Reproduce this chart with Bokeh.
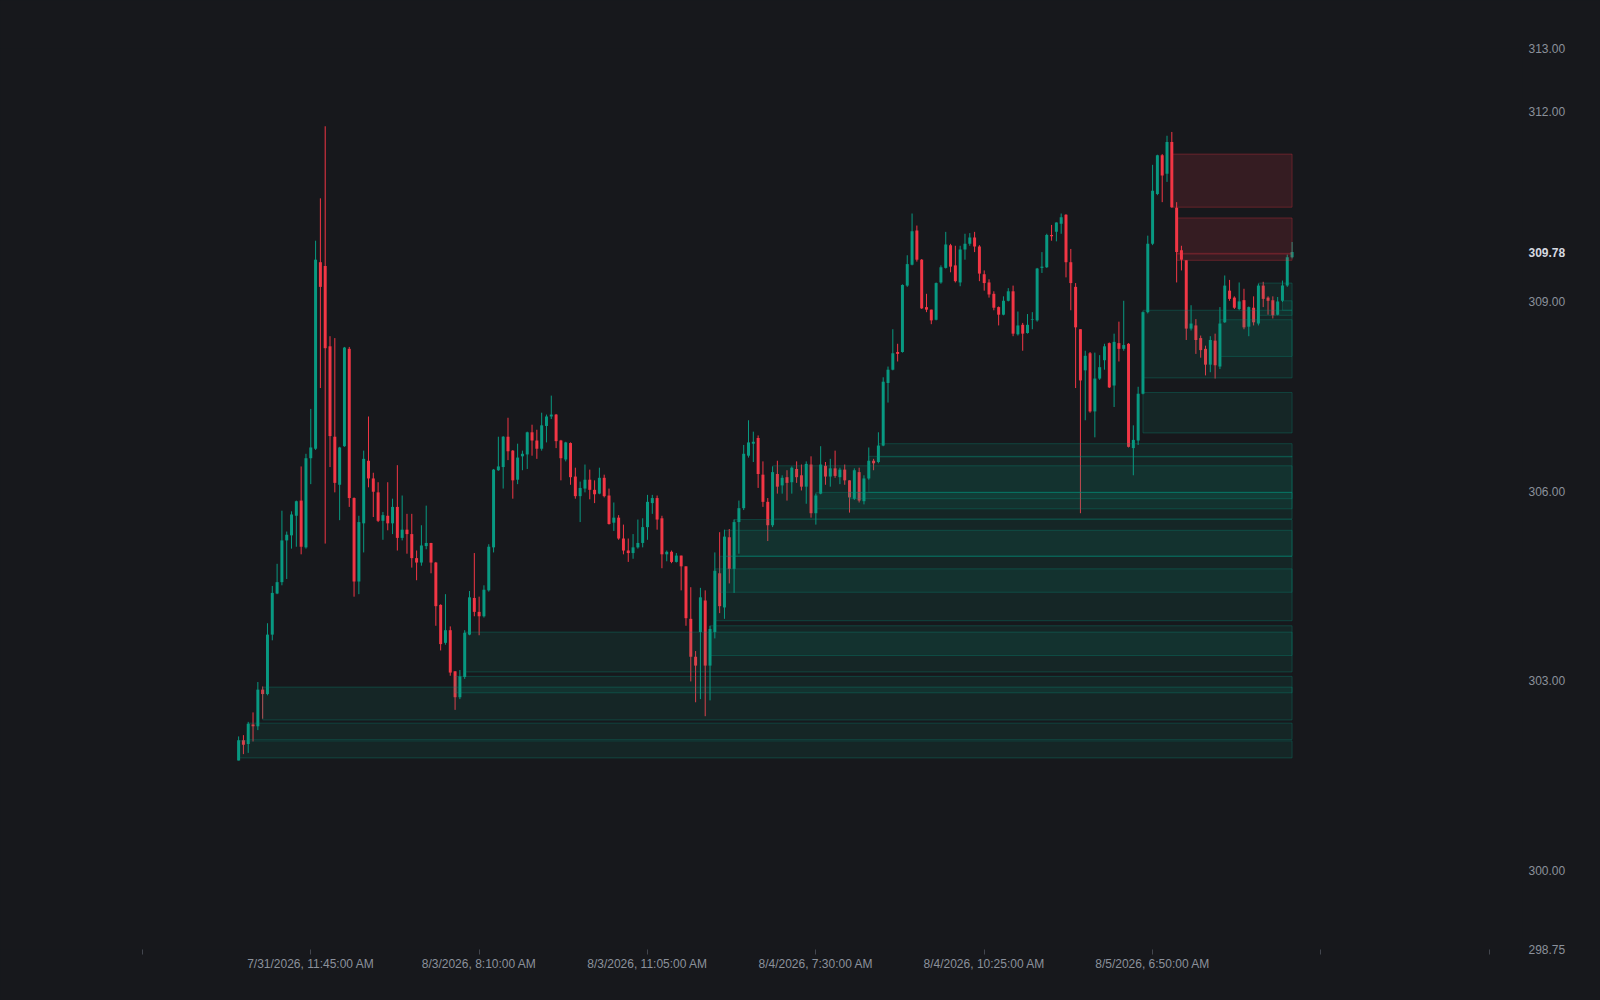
from bokeh.plotting import figure
from bokeh.models import Range1d, FixedTicker, PrintfTickFormatter, LinearAxis
from bokeh.embed import file_html
from bokeh.resources import INLINE

# ---------------- data ----------------
opens = [301.74, 302.06, 302.00, 302.31, 302.28, 302.86, 302.79, 303.73, 304.38, 304.56,
         305.22, 305.30, 305.61, 305.85, 305.11, 306.52, 306.67, 309.62, 309.56, 308.29,
         306.86, 306.10, 306.71, 308.25, 305.89, 304.57, 305.49, 306.48, 306.20, 305.98,
         305.53, 305.61, 305.49, 305.75, 305.26, 305.39, 305.32, 304.94, 304.87, 305.13,
         305.18, 304.87, 304.20, 303.60, 303.80, 303.15, 302.74, 303.06, 303.73, 304.31,
         304.09, 304.02, 304.43, 305.11, 306.33, 306.38, 306.86, 306.64, 306.18, 306.55,
         306.58, 306.93, 306.80, 306.67, 307.03, 307.18, 307.21, 306.80, 306.50, 306.76,
         306.23, 305.92, 306.04, 306.18, 306.02, 305.96, 306.21, 305.93, 305.50, 305.58,
         305.25, 305.06, 305.02, 305.11, 305.18, 305.43, 305.81, 305.89, 305.57, 305.00,
         305.04, 304.88, 304.98, 304.81, 303.98, 303.38, 303.77, 304.27, 303.24, 303.77,
         304.70, 304.16, 305.27, 304.77, 305.51, 305.73, 306.56, 306.75, 306.84, 306.26,
         305.83, 305.46, 306.27, 306.09, 306.22, 306.14, 306.35, 306.25, 306.07, 306.42,
         305.65, 305.96, 306.40, 306.23, 306.36, 306.22, 306.34, 306.17, 305.88, 306.30,
         305.84, 306.20, 306.48, 306.46, 306.72, 307.71, 307.92, 308.20, 308.20, 309.25,
         309.58, 310.12, 309.66, 308.91, 308.87, 308.71, 309.30, 309.53, 309.89, 309.57,
         309.30, 309.82, 309.91, 310.01, 309.87, 309.43, 309.30, 309.12, 308.91, 308.79,
         309.01, 309.16, 308.48, 308.63, 308.50, 308.71, 308.70, 309.53, 309.54, 310.05,
         310.10, 310.23, 310.37, 309.62, 309.23, 308.56, 307.91, 308.18, 307.26, 307.78,
         308.07, 308.34, 307.67, 308.34, 308.25, 308.33, 306.68, 306.80, 307.54, 308.83,
         309.91, 310.70, 311.31, 311.02, 311.52, 310.48, 309.81, 309.65, 308.57, 308.62,
         308.42, 308.25, 308.00, 308.38, 307.97, 308.67, 309.17, 309.06, 308.88, 309.02,
         308.60, 308.90, 308.65, 309.25, 309.06, 309.02, 308.79, 309.01, 309.25, 309.70]
highs = [302.12, 302.14, 302.35, 302.50, 302.98, 302.91, 303.91, 304.50, 304.85, 305.69,
         305.36, 305.68, 305.85, 306.39, 306.59, 307.30, 309.96, 310.63, 311.77, 308.45,
         308.42, 306.70, 308.28, 308.28, 305.90, 305.61, 306.64, 307.18, 306.29, 306.14,
         305.67, 306.14, 305.88, 306.41, 305.93, 305.64, 305.64, 305.06, 305.46, 305.77,
         305.18, 304.88, 304.21, 304.37, 303.86, 303.15, 303.17, 303.80, 304.42, 305.02,
         304.33, 304.51, 305.16, 306.35, 306.86, 306.87, 307.16, 306.65, 306.75, 306.64,
         306.94, 307.05, 306.97, 307.24, 307.21, 307.51, 307.22, 306.81, 306.78, 306.77,
         306.37, 306.15, 306.42, 306.34, 306.17, 306.37, 306.26, 306.04, 305.82, 305.62,
         305.47, 305.25, 305.32, 305.55, 305.57, 305.94, 305.94, 305.93, 305.61, 305.06,
         305.06, 305.02, 304.98, 304.81, 304.48, 303.47, 304.47, 304.43, 303.87, 305.03,
         305.35, 305.39, 305.40, 305.55, 305.85, 306.73, 307.12, 306.94, 306.88, 306.47,
         305.89, 306.39, 306.48, 306.25, 306.33, 306.39, 306.47, 306.42, 306.47, 306.55,
         305.96, 306.71, 306.46, 306.51, 306.64, 306.37, 306.42, 306.17, 306.36, 306.37,
         306.25, 306.69, 306.51, 306.93, 307.80, 307.97, 308.56, 308.33, 309.27, 309.73,
         310.39, 310.20, 309.67, 309.12, 308.87, 309.30, 309.57, 310.10, 309.91, 309.88,
         309.88, 310.07, 310.08, 310.10, 309.89, 309.49, 309.35, 309.16, 308.92, 309.08,
         309.21, 309.25, 308.84, 308.66, 308.80, 308.83, 309.53, 309.78, 310.07, 310.21,
         310.25, 310.39, 310.38, 309.83, 309.29, 308.56, 308.22, 308.20, 308.19, 308.15,
         308.33, 308.35, 308.49, 308.68, 309.01, 308.34, 307.04, 307.65, 308.84, 310.04,
         311.16, 311.32, 311.33, 311.62, 311.68, 310.57, 309.88, 309.65, 308.94, 308.72,
         308.46, 308.30, 308.45, 308.49, 308.91, 309.41, 309.34, 309.08, 309.30, 309.20,
         308.92, 309.08, 309.28, 309.31, 309.08, 309.08, 309.07, 309.33, 309.74, 309.94]
lows = [301.74, 301.84, 301.86, 302.04, 302.22, 302.40, 302.77, 303.64, 304.37, 304.51,
        304.61, 305.09, 305.12, 305.00, 305.09, 306.11, 306.65, 307.63, 305.17, 306.38,
        305.98, 305.54, 306.70, 305.75, 304.33, 304.37, 305.03, 306.06, 305.59, 305.51,
        305.23, 305.38, 305.32, 305.06, 305.22, 305.01, 304.79, 304.59, 304.82, 305.08,
        304.70, 303.87, 303.48, 303.57, 303.08, 302.54, 302.71, 303.03, 303.72, 304.02,
        303.72, 304.00, 304.41, 305.03, 306.32, 306.04, 306.49, 305.88, 306.11, 306.33,
        306.35, 306.56, 306.51, 306.64, 306.77, 307.14, 306.68, 306.17, 306.47, 306.10,
        305.88, 305.51, 305.98, 305.87, 305.81, 305.95, 305.90, 305.47, 305.37, 305.23,
        305.00, 304.88, 304.93, 305.09, 305.11, 305.23, 305.64, 305.39, 304.78, 304.89,
        304.86, 304.87, 304.43, 303.87, 302.99, 302.66, 302.71, 302.44, 302.69, 303.67,
        304.07, 303.98, 304.54, 304.39, 305.01, 305.70, 306.53, 306.46, 306.05, 305.75,
        305.21, 305.43, 305.96, 305.96, 305.85, 305.96, 306.13, 306.01, 305.80, 305.58,
        305.47, 305.95, 306.10, 306.07, 306.21, 306.11, 306.10, 305.66, 305.86, 305.82,
        305.79, 306.18, 306.33, 306.44, 306.71, 307.40, 307.91, 308.05, 308.19, 309.23,
        309.57, 309.63, 308.88, 308.83, 308.64, 308.70, 309.28, 309.52, 309.46, 309.30,
        309.24, 309.66, 309.88, 309.78, 309.32, 309.17, 309.06, 308.86, 308.62, 308.78,
        309.00, 308.45, 308.46, 308.22, 308.49, 308.56, 308.68, 309.45, 309.53, 309.96,
        309.95, 310.07, 309.38, 308.86, 307.63, 305.65, 307.12, 307.24, 306.85, 307.76,
        307.92, 307.63, 307.33, 308.05, 308.22, 306.69, 306.25, 306.73, 307.53, 308.81,
        309.89, 310.68, 310.57, 310.89, 310.48, 309.30, 309.49, 308.39, 308.54, 308.17,
        308.11, 307.83, 307.88, 307.78, 307.93, 308.66, 309.01, 308.88, 308.86, 308.56,
        308.45, 308.62, 308.62, 308.91, 308.79, 308.73, 308.78, 308.99, 309.23, 309.68]
closes = [302.06, 301.99, 302.32, 302.28, 302.86, 302.79, 303.73, 304.39, 304.56, 305.22,
          305.31, 305.63, 305.84, 305.12, 306.52, 306.69, 309.66, 309.23, 308.26, 306.87,
          306.13, 306.69, 308.27, 305.89, 304.57, 305.51, 306.51, 306.20, 305.99, 305.53,
          305.62, 305.49, 305.75, 305.26, 305.39, 305.32, 304.94, 304.87, 305.14, 305.18,
          304.87, 304.18, 303.58, 303.80, 303.13, 302.74, 303.07, 303.76, 304.32, 304.09,
          304.02, 304.44, 305.12, 306.34, 306.39, 306.86, 306.63, 306.17, 306.53, 306.59,
          306.93, 306.80, 306.67, 307.04, 307.18, 307.21, 306.79, 306.52, 306.77, 306.22,
          305.92, 306.05, 306.18, 306.02, 305.95, 306.21, 305.92, 305.48, 305.58, 305.25,
          305.06, 305.02, 305.11, 305.18, 305.43, 305.83, 305.89, 305.55, 305.00, 305.04,
          304.88, 304.98, 304.81, 303.99, 303.38, 303.24, 304.32, 303.24, 303.82, 304.74,
          304.18, 305.28, 304.77, 305.51, 305.73, 306.59, 306.77, 306.78, 306.27, 305.83,
          305.46, 306.30, 306.07, 306.21, 306.13, 306.37, 306.22, 306.07, 306.43, 305.65,
          305.93, 306.42, 306.23, 306.36, 306.24, 306.34, 306.17, 305.90, 306.33, 305.85,
          306.20, 306.48, 306.44, 306.72, 307.73, 307.92, 308.18, 308.17, 309.26, 309.59,
          310.11, 309.66, 308.89, 308.87, 308.70, 309.29, 309.54, 309.90, 309.55, 309.32,
          309.82, 309.91, 310.01, 309.87, 309.44, 309.29, 309.11, 308.90, 308.79, 309.01,
          309.16, 308.49, 308.62, 308.49, 308.63, 308.72, 309.52, 309.55, 310.05, 310.03,
          310.25, 310.33, 309.62, 309.29, 308.59, 307.75, 308.14, 307.26, 307.78, 307.96,
          308.29, 307.64, 308.36, 308.25, 308.31, 306.70, 306.81, 307.54, 308.83, 309.91,
          310.75, 311.31, 310.99, 311.52, 310.49, 309.78, 309.66, 308.57, 308.65, 308.39,
          308.23, 308.00, 308.39, 307.99, 308.65, 309.25, 309.04, 308.90, 309.00, 308.59,
          308.91, 308.67, 309.25, 309.04, 309.01, 308.78, 309.00, 309.25, 309.70, 309.78]

# demand (green) zones: start bar, bottom, top
demand_start = [0, 2, 5, 45, 47, 98, 99, 100, 101, 103, 111, 120, 127, 131, 133,
                188, 188, 204, 212, 217]
demand_bottom = [301.78, 302.07, 302.38, 302.81, 303.14, 303.40, 303.95, 304.40, 304.97,
                 304.97, 305.56, 305.72, 305.88, 305.98, 306.54, 306.92, 307.79, 308.13,
                 308.78, 308.86]
demand_top = [302.05, 302.33, 302.90, 303.07, 303.77, 303.87, 304.77, 304.97, 305.38,
              305.55, 306.40, 305.98, 305.98, 306.55, 306.75, 307.56, 308.86, 308.71,
              309.29, 309.01]
# supply (red) zones
supply_start = [194, 195, 195]
supply_bottom = [310.49, 309.76, 309.65]
supply_top = [311.33, 310.32, 309.75]
zone_end = 219

tick_bars = [-20, 15, 50, 85, 120, 155, 190, 225, 260]
tick_labels = ["", "7/31/2026, 11:45:00 AM", "8/3/2026, 8:10:00 AM", "8/3/2026, 11:05:00 AM",
               "8/4/2026, 7:30:00 AM", "8/4/2026, 10:25:00 AM", "8/5/2026, 6:50:00 AM", "", ""]
price_ticks = [298.75, 300, 303, 306, 309, 312, 313]
last_price = 309.78

# ---------------- style ----------------
BG = "#17181c"
UP = "#089981"
DN = "#f23645"
TXT = "#8b919b"
FONT = "Liberation Sans"

n = len(opens)
xs = list(range(n))
colors = [UP if c >= o else DN for o, c in zip(opens, closes)]
tops = [max(o, c) for o, c in zip(opens, closes)]
bots = [min(o, c) for o, c in zip(opens, closes)]

X0, X1 = -49.5, 266.9

p = figure(width=1600, height=1000,
           x_range=Range1d(X0, X1), y_range=Range1d(298.75, 313.0),
           y_axis_location="right", output_backend="svg", toolbar_location=None,
           background_fill_color=BG, border_fill_color=BG, outline_line_color=None,
           min_border_left=0, min_border_right=78, min_border_top=48, min_border_bottom=51)
p.styles = {"background-color": BG}
p.grid.visible = False

p.segment(x0=xs, y0=lows, x1=xs, y1=highs, line_color=colors, line_width=1)
p.vbar(x=xs, width=0.62, top=tops, bottom=bots, fill_color=colors, line_color=None)

p.quad(left=demand_start, right=[zone_end] * len(demand_start),
       bottom=demand_bottom, top=demand_top,
       fill_color=UP, fill_alpha=0.11, line_color=UP, line_alpha=0.3, line_width=1)
p.quad(left=supply_start, right=[zone_end] * len(supply_start),
       bottom=supply_bottom, top=supply_top,
       fill_color=DN, fill_alpha=0.14, line_color=DN, line_alpha=0.3, line_width=1)

xa = p.xaxis[0]
xa.ticker = FixedTicker(ticks=tick_bars)
xa.major_label_overrides = {b: lab for b, lab in zip(tick_bars, tick_labels)}
xa.axis_line_color = None
xa.major_tick_line_color = "#43464e"
xa.major_tick_in = 0
xa.major_tick_out = 5
xa.minor_tick_line_color = None
xa.major_label_standoff = 2
xa.major_label_text_color = TXT
xa.major_label_text_font = FONT
xa.major_label_text_font_size = "12px"

ya = p.yaxis[0]
ya.ticker = FixedTicker(ticks=price_ticks)
ya.formatter = PrintfTickFormatter(format="%.2f")
ya.axis_line_color = None
ya.major_tick_line_color = None
ya.major_tick_in = 0
ya.major_tick_out = 0
ya.minor_tick_line_color = None
ya.major_label_standoff = 6
ya.major_label_text_color = TXT
ya.major_label_text_font = FONT
ya.major_label_text_font_size = "12px"

# last-price label: a second right axis, pulled back over the first one
la = LinearAxis(ticker=FixedTicker(ticks=[last_price]),
                formatter=PrintfTickFormatter(format="%.2f"))
la.axis_line_color = None
la.major_tick_line_color = None
la.major_tick_in = 0
la.major_tick_out = 0
la.minor_tick_line_color = None
la.major_label_standoff = -40
la.major_label_text_color = "#d6d9e0"
la.major_label_text_font = FONT
la.major_label_text_font_style = "bold"
la.major_label_text_font_size = "12px"
p.add_layout(la, "right")

open("out.html", "w").write(file_html(p, INLINE))
